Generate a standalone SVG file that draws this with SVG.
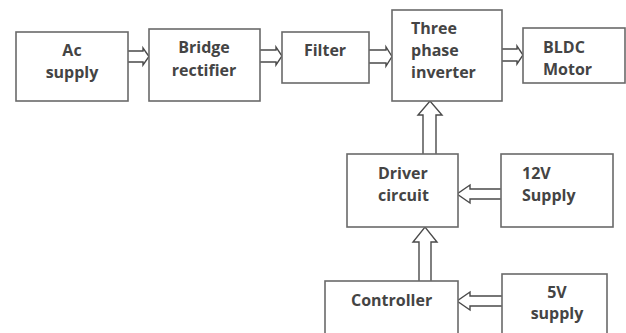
<svg xmlns="http://www.w3.org/2000/svg" width="626" height="333" viewBox="0 0 626 333">
<style>
.box{fill:#fff;stroke:#6a6a6a;stroke-width:1.6}
.arr{fill:#fff;stroke:#4a4a4a;stroke-width:1.4;stroke-linejoin:miter}
text{font-family:"Open Sans",Lato,"Liberation Sans",sans-serif;font-weight:bold;font-size:16px;fill:#444}
.c{text-anchor:middle}
</style>
<rect width="626" height="333" fill="#fff"/>
<g id="connectors">
<path class="arr" d="M128,51 H143 V48 L149,56.5 L143,65 V62 H128"/>
<path class="arr" d="M260,50 H276 V47 L282,56 L276,65 V62 H260"/>
<path class="arr" d="M369,50 H386 V47 L392,56.5 L386,66 V63 H369"/>
<path class="arr" d="M502,49 H517 V46 L523,55 L517,64 V61 H502"/>
<path class="arr" d="M423,154 V115 H418 L430,101 L442,115 H436 V154"/>
<path class="arr" d="M419,281 V242 H413 L425,227 L437,242 H431 V281"/>
<path class="arr" d="M501,189 H470 V185 L457,194 L470,203 V199 H501"/>
<path class="arr" d="M502,296 H470 V292 L457,301 L470,310 V306 H502"/>
</g>
<g id="ac"><rect class="box" x="16" y="32" width="112" height="69"/><text class="c" x="72" y="56">Ac</text><text class="c" x="72" y="78">supply</text></g>
<g id="bridge"><rect class="box" x="149" y="29" width="111" height="72"/><text class="c" x="204" y="53">Bridge</text><text class="c" x="204" y="76">rectifier</text></g>
<g id="filter"><rect class="box" x="282" y="32" width="87" height="51"/><text class="c" x="325" y="56">Filter</text></g>
<g id="inverter"><rect class="box" x="392" y="10" width="110" height="91"/><text x="411" y="34">Three</text><text x="411" y="56">phase</text><text x="411" y="78">inverter</text></g>
<g id="bldc"><rect class="box" x="523" y="28" width="102" height="55"/><text x="543" y="53">BLDC</text><text x="543" y="75">Motor</text></g>
<g id="driver"><rect class="box" x="347" y="154" width="111" height="73"/><text x="378" y="179">Driver</text><text x="378" y="201">circuit</text></g>
<g id="v12"><rect class="box" x="501" y="154" width="112" height="73"/><text x="522" y="179">12V</text><text x="522" y="201">Supply</text></g>
<g id="controller"><rect class="box" x="325" y="281" width="133" height="60"/><text x="351" y="306">Controller</text></g>
<g id="v5"><rect class="box" x="502" y="274" width="105" height="67"/><text class="c" x="557" y="298">5V</text><text class="c" x="557" y="319">supply</text></g>
</svg>
